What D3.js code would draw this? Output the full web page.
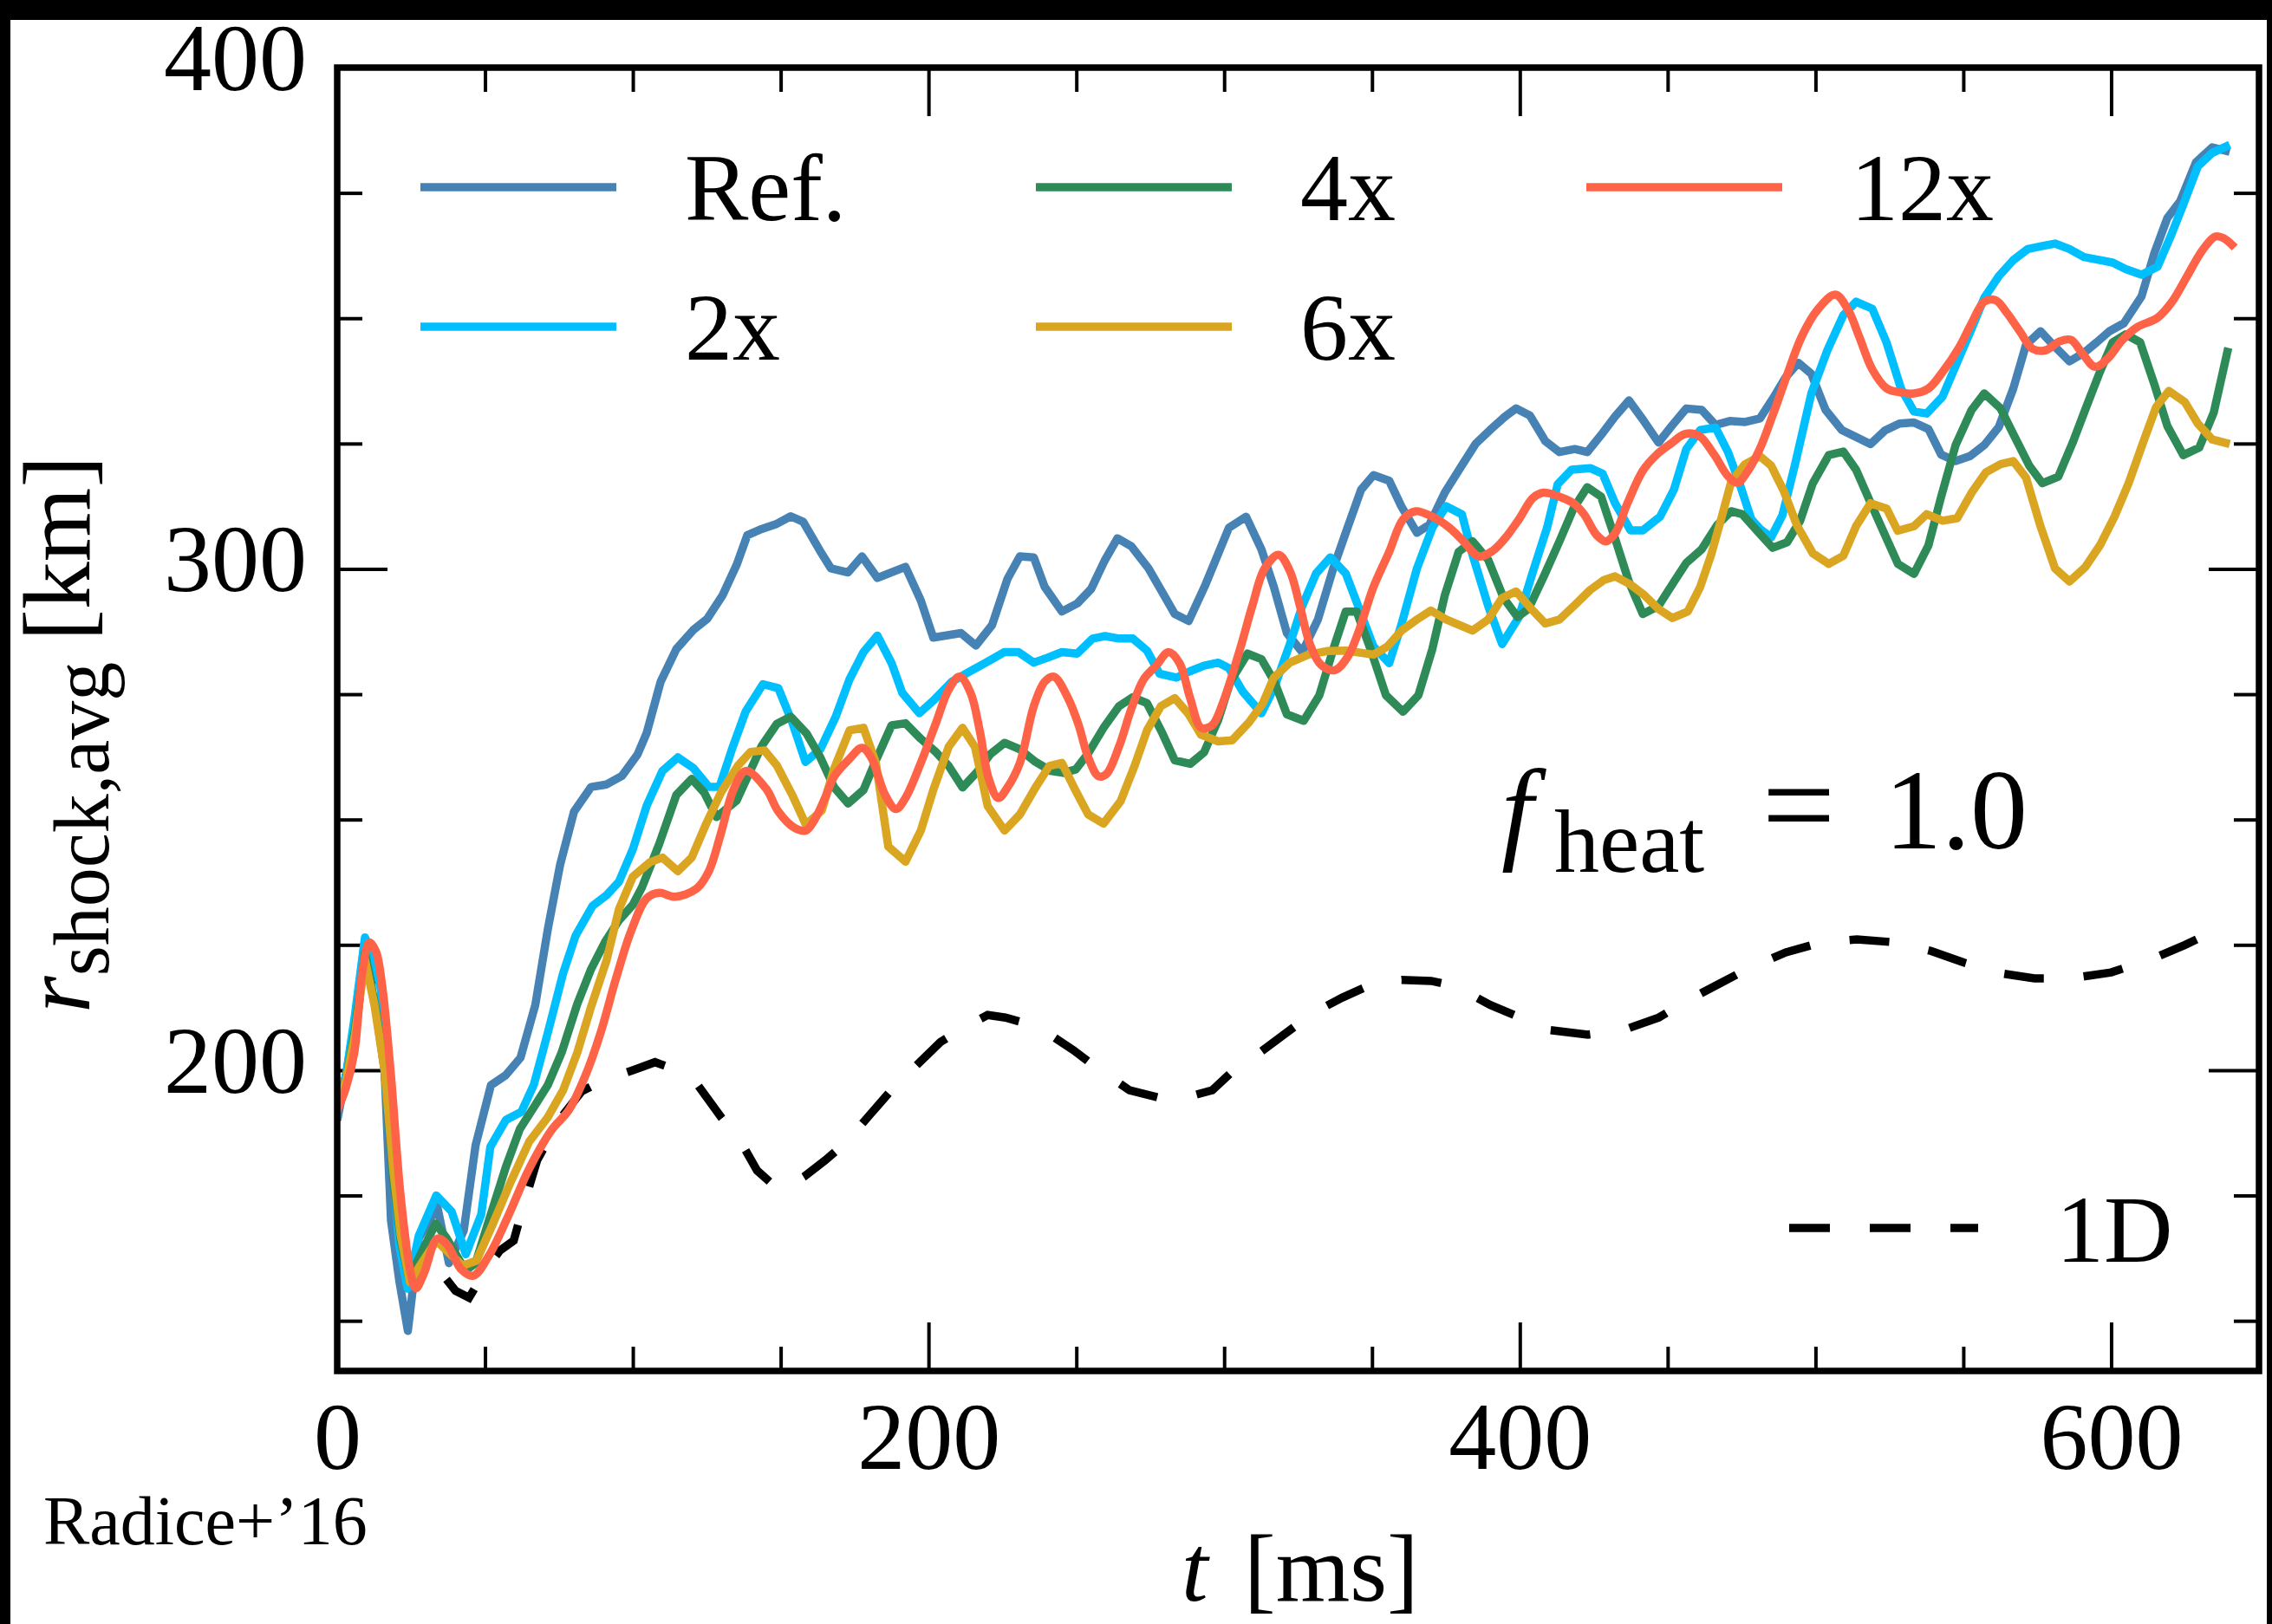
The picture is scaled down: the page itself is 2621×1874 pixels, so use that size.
<!DOCTYPE html>
<html>
<head>
<meta charset="utf-8">
<script src="https://cdn.jsdelivr.net/npm/d3@7"></script>
<style>
  body { margin: 0; background: #fff; }
  svg { display: block; }
  text { font-family: "Liberation Serif", "Times New Roman", serif; fill: #000; }
</style>
</head>
<body>
<div id="chart"></div>
<script>
// series, [t in ms, r in km]
const refData = [[0,190],[3,199],[6,210],[9.4,226],[12,223],[14.8,217],[18.2,170],[21,158],[23.9,148],[27.6,166.5],[33.9,172.7],[37.8,161.5],[42.8,168],[46.8,185],[52,197],[57,199],[62,202.5],[67,213],[71.2,228],[75.4,241],[80.1,251.6],[85.9,256.5],[91.1,257],[96.3,258.7],[101.6,263],[104.7,267.3],[109.4,277.5],[114.7,284],[120.4,287.8],[125.1,290],[130.4,294.8],[135.1,300.8],[138.7,306.7],[142.9,307.8],[148.7,309],[153.4,310.5],[157.6,309.4],[163.4,303.5],[167,300.1],[172.8,299.3],[177.5,302.5],[182.7,298.2],[192.2,300.4],[197.4,293.7],[201.6,286.3],[211,287.2],[216,284.7],[221.5,288.8],[226.7,298],[230.9,302.5],[235.6,302.3],[239.3,296.4],[245.1,291.5],[250.3,293.1],[255,296],[259.7,301.8],[263.9,306.1],[268.6,304.5],[274.4,300.1],[279.1,295.3],[283.3,291],[288,289.6],[293.7,296.9],[301.6,308.2],[307.4,310.4],[312.6,303.9],[316.8,296.4],[321.2,287.2],[326.4,283.4],[331.7,289.9],[336.9,300.1],[341.1,307.2],[346.3,315.8],[350.5,318.7],[355.8,317.6],[359.9,312.5],[365.2,307.2],[369.4,308.8],[374.6,315.2],[379.8,320.1],[385.1,325],[390.3,327.9],[395,330.4],[398.7,332],[403.4,330.6],[408.6,325.5],[413.4,323.3],[418.6,323.9],[422.8,323.3],[428,327.1],[432.2,330.4],[436.9,333.6],[441.6,329.8],[446.9,325.2],[451.6,328.7],[456.3,332],[461.5,331.7],[466.2,328.7],[471,329.5],[476.2,329.3],[481.2,330],[485.5,333.9],[489.9,338.2],[494.2,341.1],[498.6,338.9],[503.4,331.7],[508.9,327.7],[513.7,326.3],[518.6,324.9],[523.5,327.6],[528.4,329],[533.3,329.2],[538.2,327.9],[542.5,322.8],[547.4,321.5],[552.3,322.5],[557.1,324.7],[562,328.3],[566.9,336],[571.2,344.7],[576.1,347.4],[581,344.3],[585.9,341.4],[590.8,343.1],[595.1,345.2],[599.4,347.4],[604.3,349],[610.3,354.4],[614.6,363],[619,370],[623.3,373.3],[628.7,381.1],[634.2,384.1],[640.1,383.2]];

const x2Data = [[0,192],[3,199],[6,211],[9.4,226.5],[12,223],[14.8,216],[18.2,185],[21,165],[23.8,156.4],[27.6,167],[33.5,175],[38.7,171.8],[43.5,163.3],[48.7,171.2],[51.8,184.7],[57.1,190.1],[62.3,191.7],[66.5,197.1],[71.2,207.4],[76.4,219.3],[80.6,226.8],[86.4,232.8],[91.1,234.9],[95.3,237.6],[100,244.1],[104.7,252.8],[110,259.7],[115.2,262.4],[120.4,260.3],[125.7,256.5],[129.3,256.5],[133.5,264],[138.2,271.6],[144,277],[149.2,276.2],[153.9,269.4],[158.4,261.5],[163.4,264],[168.6,270.5],[173.3,278],[178,283.4],[182.7,286.7],[187.5,281.2],[191.1,275.3],[196.9,271.2],[201.6,273.7],[207.9,277.5],[214.2,279.6],[219.4,281.3],[225.7,283.4],[230.4,283.4],[235.6,281.3],[240.3,282.3],[245.1,283.4],[250.3,283.1],[255.5,286.1],[259.7,286.6],[264.4,286.1],[269.1,286.1],[273.9,283.7],[278.1,279.1],[283.8,278.3],[288.5,279.6],[293.2,280.7],[298,281.3],[301.6,280.2],[306.3,275.5],[312.6,271.2],[317,276.4],[322.2,285],[326.4,292.6],[331.1,299.1],[335.9,302.3],[341.1,299.1],[345.3,292.6],[350.5,284.5],[355.8,281.2],[359.9,288.8],[365.2,300.1],[370.4,308.2],[375.1,312.5],[380.4,310.9],[384,302.8],[389.3,292.6],[394,285],[399.7,290.4],[404.5,299.6],[409.2,308.2],[412.8,316.9],[417.5,319.8],[423.8,320.1],[428,319],[432.2,313.1],[437.4,307.7],[441.6,307.7],[447.4,310.4],[452.1,315.8],[456.3,323.9],[461,327.7],[466.2,328.2],[470.4,323.3],[474.1,317.4],[478.3,309.9],[481.2,308],[485,306.3],[488.8,310.7],[493.1,320.9],[498.6,335],[504,343.6],[509.4,350.6],[513.7,353.3],[519.2,351.9],[524,345.2],[528.9,336],[533.3,331.4],[537.6,331],[543,334.4],[548.5,342],[552.8,347.9],[557.1,354.1],[562,358.4],[566.9,361.6],[571.8,363.8],[576.7,364.4],[581,364.9],[585.9,363.8],[590.8,362.2],[596.2,361.6],[600.5,361.1],[604.9,359.8],[610.3,358.7],[615.7,360.3],[620.1,366.3],[624.4,372.7],[629.3,380.3],[634.2,383],[640.1,384.6]];

const x4Data = [[0,192],[3,198],[6,208],[9.4,223.5],[13.1,212],[16,200],[19,178],[21.5,166],[24.3,158.5],[28,163],[33.3,169.4],[37,166.5],[43.4,160],[46.8,161.5],[51.3,170],[57.1,180.8],[61.8,188.3],[66.5,192.6],[71.2,197],[75.9,203.5],[81.2,213.2],[85.9,220.2],[90.6,225.6],[95.3,229.9],[100,233],[103.1,236.5],[108.9,245.1],[114.7,254.9],[119.9,258.1],[124.1,255.4],[128.3,250.5],[135.1,253.8],[139.3,259.2],[143.5,264.6],[148.7,269.1],[153.4,270.5],[158.7,267.2],[163.4,262.4],[168.1,256.4],[172.8,253.2],[178,255.9],[182.2,261.8],[187.5,268.8],[192.2,269.2],[197.4,266.1],[202.6,263.4],[206.8,260.7],[211.5,256.4],[216.3,259.4],[221,263.1],[225.7,265.3],[230.9,264],[236.2,261.5],[241.4,259.7],[245.6,259.3],[249.8,260],[254,263.2],[259.2,268.3],[264.4,272.6],[269.1,274.4],[273.9,273.2],[279.1,267.2],[283.3,261.8],[288.5,261.1],[293.2,263.4],[298,269.9],[302.1,277.5],[307.9,283.1],[312.6,282],[317,277.5],[321.2,271],[326.9,269.7],[332.2,274.8],[336.9,284],[341.1,291.5],[344.8,291.5],[349.5,284],[354.7,274.8],[360.5,271.5],[365.7,274.8],[370.4,284],[374.6,294.7],[379.3,303.4],[384,305.5],[389.3,301.8],[394.5,294.2],[399.2,290.4],[402.9,292],[408.1,298.5],[413.4,305.5],[418.1,312],[422.8,316.3],[427.5,314.4],[432.2,306.1],[436.9,297.4],[441.6,291],[446.9,292.6],[452.1,297.4],[456.3,301.2],[461.5,303.9],[466.8,308.8],[471.5,311.5],[475.2,310.9],[481.2,307],[485.5,304.2],[490.4,305.3],[494.8,309.6],[499.1,317.1],[504.5,322.7],[509.4,323.4],[513.7,319.8],[518.1,313.9],[523,307.4],[527.9,301],[533.3,299],[538.2,304.7],[542.5,314.4],[547.4,324.7],[552.8,331.7],[557.1,335],[562.6,332],[566.9,326.9],[572.3,320.6],[576.7,317.1],[582.1,318.4],[587,325.2],[591.9,332.8],[596.2,339.3],[600.5,345.2],[604.9,346.8],[609.8,345.2],[614.6,336.8],[619,328.5],[624.4,322.7],[629.8,324.2],[634.7,331.2],[639.6,344.1]];

const x6Data = [[0,192],[3,198],[6,207],[9.4,222],[12.6,213],[16,200],[19,180],[21.5,167],[24.6,157.7],[28,161],[33.5,166],[37,164],[42.4,161],[47.1,162],[52.4,169],[58.6,177.6],[64.9,185.7],[71.2,190.6],[76.4,196],[81.2,203.5],[85.9,212.7],[91.1,221.9],[95.3,232.1],[100,238.6],[105.8,241.5],[110,242.4],[115.2,239.7],[119.9,242.4],[124.6,248.9],[129.8,255.4],[135.6,260.8],[139.8,263.5],[144.5,263.8],[148.7,260.8],[153.9,254.9],[158.5,249],[163.9,251.8],[168.1,260.2],[173.3,267.8],[178,268.3],[182.2,261.3],[186.4,244.6],[192.2,241.6],[197.4,247.8],[201.6,255.9],[206.8,264.5],[211.5,268.3],[215.7,264.5],[220,252.7],[225.7,247.8],[230.9,251],[236.2,256.4],[240.9,260.7],[245.1,261.3],[249.2,256.4],[254,251],[259.2,249.2],[265,253.7],[269.7,260.7],[273.9,267.8],[278.6,272.6],[283.3,274.2],[288,271],[292.2,266.9],[298,265.6],[302.7,265.8],[308.4,269.4],[313.1,273.2],[316.8,278.3],[322.2,281.3],[328.5,282.9],[334.8,283.6],[341.1,283.7],[350.5,282.9],[355.2,284.5],[360,287.7],[365.2,289.9],[369.9,291.7],[375.1,289.9],[384,287.7],[389.3,289.9],[394,294.2],[398.7,295.5],[403.9,292],[408.6,289.1],[413.4,289.9],[418.6,292.8],[423.8,295.8],[428.5,297.8],[432.2,298.5],[437.4,296.9],[442.2,294.7],[446.9,292],[451.6,290.2],[456.8,291.5],[461,296.4],[464.7,302.8],[468.3,310.4],[471.5,317.4],[476.2,320.9],[481.2,322.5],[485,320.6],[489.3,315.5],[493.7,308.7],[499.1,303.1],[504.5,301],[509.4,302.6],[513.7,308.5],[518.6,313.1],[524.1,312],[527.8,307.6],[533.3,308.5],[537.6,310.9],[543,309.6],[547.9,310.1],[552.8,315.2],[557.7,319.3],[562.6,320.9],[566.9,321.5],[571.2,318.2],[576.1,308.5],[581,300.1],[585.9,297.5],[591.3,300.4],[596.2,304.7],[601.1,310.4],[605.9,317.1],[610.8,325.2],[615.2,332.3],[619.5,335.5],[624.9,333.3],[629.3,329],[634.2,325.8],[640.1,324.9]];

const x12Data = [[0,192],[2.9,196.4],[5.8,203.6],[8.6,220],[10.9,225.5],[13.1,223.7],[15.3,216.4],[18.2,198.8],[21.5,174.6],[24.9,159.4],[26.6,156.5],[29.3,159.4],[33.9,166.4],[37.2,165.2],[41.9,160.3],[46,159],[51.3,163],[57.6,170.6],[64.9,180.3],[72.3,187.9],[78.5,192.2],[83.8,198.7],[89,207.3],[94.2,218.1],[99.5,227.9],[104.7,234.3],[108.9,235.4],[114.1,234.6],[121.5,236.2],[125.7,239.7],[129.8,247.3],[134,255.9],[138.2,259.7],[145,256.2],[149.2,251.6],[154.5,248.4],[158.5,247.8],[161.5,250],[165,254.3],[168.1,258.6],[172.8,261.8],[177.5,264.3],[180.6,262.4],[185.4,254.8],[189,252.1],[192.2,254.3],[197.4,261.3],[202.6,269.4],[206.8,275.9],[210.5,278.5],[214.2,275.3],[217.3,267.8],[220.4,258.1],[223.6,254.3],[226.7,256.4],[230.9,261.3],[235.6,272.6],[239.3,277.5],[242.4,278.5],[247.2,274.2],[250.8,268.8],[254,262.4],[257.6,258.6],[260.2,259.1],[264.4,264.5],[268.6,272.1],[272.8,278],[277,280.7],[281.2,283.4],[284.9,281.2],[288.5,274.2],[292.2,268.3],[295.9,268.8],[299.5,273.2],[305.3,283.9],[309.5,292.6],[313.7,300.1],[318.4,302.8],[322.2,299.6],[325.4,293.1],[329,285],[332.7,280.9],[337.4,279.8],[341.6,282.3],[345.3,287.2],[350.5,296.4],[355.8,303.4],[360.5,309.9],[364.7,311.5],[370.4,310.4],[376.2,308.2],[380.9,305.5],[386.1,302.5],[390.8,303.6],[395,306.1],[399.7,309.9],[404.5,314.2],[408.1,315.2],[413.4,314.4],[418.1,313.1],[421.7,310.9],[425.9,306.8],[429.1,305.5],[432.2,307.1],[436.4,313.1],[441.6,319.6],[446.3,322.8],[451.1,325],[455.8,326.9],[460.5,326.6],[465.7,322.8],[470.4,318.5],[473.6,317.2],[477.2,319.6],[481.2,324],[485.5,330.6],[490.4,338.7],[495.3,346.3],[500.7,351.7],[506.7,354.7],[511,351.7],[514.8,346.3],[519.2,339.8],[524.1,336],[528.9,335.2],[533.3,335],[538.2,336],[543,339.3],[548.5,344.1],[552.8,349],[557.1,353.3],[560.9,353.6],[564.7,351.1],[569.1,347.4],[573.4,343.9],[577.8,343.6],[582.6,345.4],[586.4,345.7],[590.2,343],[594.6,340.3],[598.9,342],[603.8,345.7],[608.7,348.2],[615.7,350.1],[620.6,353.3],[625.5,358.2],[630.9,363.6],[635.2,366.3],[638,366],[641.8,364.1]];

const oneDData = [[0,192],[3,199],[6,206],[9.4,224],[12,222],[15,214],[18,192],[21,171],[24,158.5],[27,158],[30,160.5],[33.3,162.4],[36,159],[40,156],[44.6,154.6],[50,160],[55,164],[59.7,166],[62.5,172],[67.6,182],[75,190],[82.7,195.8],[90,198],[100,200],[107.5,201.6],[115,200],[122,197],[130,190.5],[136.7,185.5],[142,180],[149,176.3],[153,177],[158,178.8],[165,182],[172,185.5],[180,191],[188,196.4],[196,201],[204,205.6],[212,208.5],[220,211],[226,210.5],[232,209.5],[240,207.5],[249,204],[258,200],[268,196],[278,194.5],[286,194.4],[296,196],[305,201],[312,203.5],[320,207],[330,211.4],[340,214.5],[351,217.4],[360,218],[370,217.8],[378,216.8],[390,213],[399,210.8],[410,208],[423,207.1],[435,208],[447,210.5],[457,214],[467,217.1],[478,220.5],[490,223.5],[502,225.5],[514,226.1],[527,225.5],[539,223.8],[550,221.5],[562,219.4],[574,218.3],[586,218.3],[600,219.5],[613,222],[625,225],[635,227.8],[641,229.5]];

const seriesNames = ["Ref.", "2x", "4x", "6x", "12x"];
const seriesColors = ["#4682b4", "#00bfff", "#2e8b57", "#daa520", "#ff6347"];
const seriesValues = [refData, x2Data, x4Data, x6Data, x12Data];

const xTicksMajor = [0, 200, 400, 600];
const xTicksMinor = [50, 100, 150, 250, 300, 350, 450, 500, 550, 650];
const yTicksMajor = [200, 300, 400];
const yTicksMinor = [150, 175, 225, 250, 275, 325, 350, 375];

class ShockChart {
  constructor(_config) {
    this.config = {
      parentElement: _config.parentElement,
      containerWidth: 2621,
      containerHeight: 1874,
      margin: { top: 78, right: 15, bottom: 292, left: 389 },
      fontSize: 110,
    };
    this.initVis();
  }

  initVis() {
    let vis = this;
    const c = vis.config;
    c.width = c.containerWidth - c.margin.left - c.margin.right;
    c.height = c.containerHeight - c.margin.top - c.margin.bottom;

    vis.svg = d3
      .select(c.parentElement)
      .append("svg")
      .attr("width", c.containerWidth)
      .attr("height", c.containerHeight);

    vis.svg.append("rect").attr("width", c.containerWidth).attr("height", c.containerHeight).attr("fill", "#fff");

    // black border strips of the scanned figure
    vis.svg.append("rect").attr("x", 0).attr("y", 0).attr("width", c.containerWidth).attr("height", 23).attr("fill", "#000");
    vis.svg.append("rect").attr("x", 0).attr("y", 0).attr("width", 12).attr("height", c.containerHeight).attr("fill", "#000");
    vis.svg.append("rect").attr("x", 2615).attr("y", 0).attr("width", 6).attr("height", c.containerHeight).attr("fill", "#000");

    vis.xScale = d3.scaleLinear().domain([0, 650]).range([0, c.width]);
    vis.yScale = d3.scaleLinear().domain([140, 400]).range([c.height, 0]);

    vis.chart = vis.svg.append("g").attr("transform", `translate(${c.margin.left},${c.margin.top})`);

    vis.chart.append("clipPath").attr("id", "plot-clip")
      .append("rect").attr("width", c.width).attr("height", c.height);

    vis.renderVis();
  }

  renderVis() {
    let vis = this;
    const c = vis.config;
    const fs = c.fontSize;

    // ticks point inwards on all four sides
    const addAxis = (axis, transform, cls) => {
      const g = vis.chart.append("g").attr("class", cls).attr("transform", transform).call(axis);
      g.select(".domain").remove();
      g.selectAll("line").attr("stroke", "#000").attr("stroke-width", 4);
      g.selectAll("text").style("font-size", fs + "px").attr("fill", "#000");
      return g;
    };

    addAxis(d3.axisBottom(vis.xScale).tickValues(xTicksMajor).tickSize(-56).tickPadding(35).tickFormat(d3.format("d")), `translate(0,${c.height})`, "x-axis");
    addAxis(d3.axisBottom(vis.xScale).tickValues(xTicksMinor).tickSize(-28).tickFormat(""), `translate(0,${c.height})`, "x-minor");
    addAxis(d3.axisTop(vis.xScale).tickValues(xTicksMajor).tickSize(-56).tickFormat(""), "translate(0,0)", "x-top");
    addAxis(d3.axisTop(vis.xScale).tickValues(xTicksMinor).tickSize(-28).tickFormat(""), "translate(0,0)", "x-top-minor");

    const yg = addAxis(d3.axisLeft(vis.yScale).tickValues(yTicksMajor).tickSize(-58).tickPadding(35).tickFormat(d3.format("d")), "translate(0,0)", "y-axis");
    yg.selectAll("text").attr("dy", "0.23em");
    addAxis(d3.axisLeft(vis.yScale).tickValues(yTicksMinor).tickSize(-29).tickFormat(""), "translate(0,0)", "y-minor");
    addAxis(d3.axisRight(vis.yScale).tickValues(yTicksMajor).tickSize(-58).tickFormat(""), `translate(${c.width},0)`, "y-right");
    addAxis(d3.axisRight(vis.yScale).tickValues(yTicksMinor).tickSize(-29).tickFormat(""), `translate(${c.width},0)`, "y-right-minor");

    const lines = vis.chart.append("g").attr("clip-path", "url(#plot-clip)");

    const line = d3.line().x((d) => vis.xScale(d[0])).y((d) => vis.yScale(d[1]));

    // 1D run, dashed black
    lines.append("path")
      .datum(oneDData)
      .attr("d", line)
      .attr("fill", "none")
      .attr("stroke", "#000")
      .attr("stroke-width", 9.5)
      .attr("stroke-dasharray", "46,46");

    lines.selectAll(".series")
      .data(seriesValues)
      .join("path")
      .attr("class", "series")
      .attr("d", (d, i) => (i === 4 ? line.curve(d3.curveCatmullRom.alpha(0.5))(d) : line.curve(d3.curveLinear)(d)))
      .attr("fill", "none")
      .attr("stroke", (d, i) => seriesColors[i])
      .attr("stroke-width", 9.5)
      .attr("stroke-linejoin", "round");

    // plot frame
    vis.chart.append("rect")
      .attr("width", c.width)
      .attr("height", c.height)
      .attr("fill", "none")
      .attr("stroke", "#000")
      .attr("stroke-width", 7.5);

    // legend, 3 columns x 2 rows, filled column by column
    const legCols = [96, 806, 1441];
    const legRows = [138, 299];
    const legColOf = [0, 0, 1, 1, 2];
    const legRowOf = [0, 1, 0, 1, 0];
    const legend = vis.chart.append("g").attr("class", "legend");
    seriesNames.forEach((name, i) => {
      const lx = legCols[legColOf[i]];
      const ly = legRows[legRowOf[i]];
      legend.append("line")
        .attr("x1", lx).attr("x2", lx + 226)
        .attr("y1", ly).attr("y2", ly)
        .attr("stroke", seriesColors[i])
        .attr("stroke-width", 9.5);
      legend.append("text")
        .attr("x", lx + 305)
        .attr("y", ly + 38)
        .style("font-size", fs + "px")
        .text(name);
    });

    // 1D legend entry
    legend.append("line")
      .attr("x1", 1675).attr("x2", 1893)
      .attr("y1", 1339).attr("y2", 1339)
      .attr("stroke", "#000")
      .attr("stroke-width", 9.5)
      .attr("stroke-dasharray", "47,46");
    legend.append("text")
      .attr("x", 1983)
      .attr("y", 1378)
      .style("font-size", fs + "px")
      .text("1D");

    // f_heat annotation
    const ann = vis.chart.append("g");
    ann.append("text").attr("x", 1343).attr("y", 901).style("font-size", "132px").style("font-style", "italic").text("f");
    ann.append("text").attr("x", 1404).attr("y", 928).style("font-size", "104px").text("heat");
    ann.append("text").attr("x", 1686).attr("y", 901).attr("text-anchor", "middle").style("font-size", "150px").text("=");
    ann.append("text").attr("x", 1785).attr("y", 901).style("font-size", "132px").text("1.0");

    // axis labels
    const xl = vis.svg.append("text").attr("x", 1363).attr("y", 1847).style("font-size", fs + "px");
    xl.append("tspan").style("font-style", "italic").text("t");
    xl.append("tspan").attr("x", 1435).text("[ms]");

    const yl = vis.svg.append("text")
      .attr("transform", "translate(103,1169) rotate(-90)")
      .style("font-size", fs + "px");
    yl.append("tspan").style("font-style", "italic").text("r");
    yl.append("tspan").attr("dy", 22).style("font-size", "90px").text("shock,avg");
    yl.append("tspan").attr("dy", -22).attr("dx", 24).text("[km]");

    vis.svg.append("text")
      .attr("x", 50)
      .attr("y", 1782)
      .style("font-size", "80px")
      .text("Radice+\u201916");
  }
}

new ShockChart({ parentElement: "#chart" });
</script>
</body>
</html>
